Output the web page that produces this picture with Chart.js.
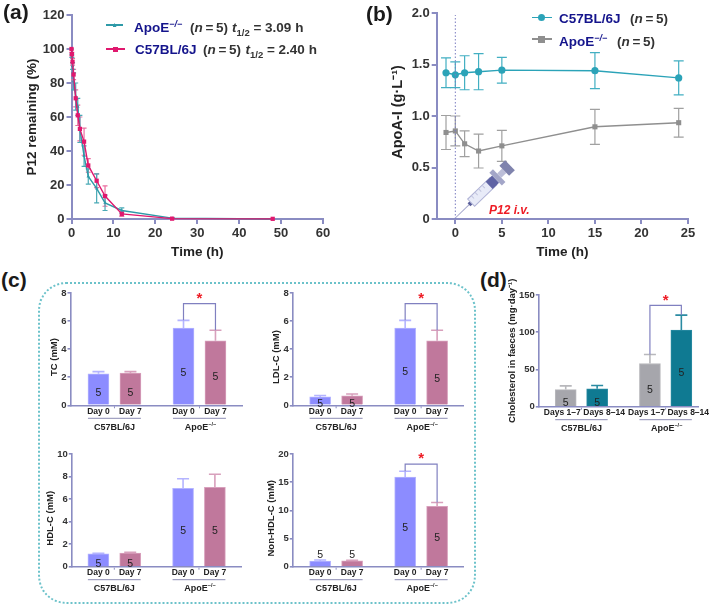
<!DOCTYPE html>
<html>
<head>
<meta charset="utf-8">
<script src="https://cdn.jsdelivr.net/npm/chart.js@4"></script>
<style>
    html, body { margin: 0; padding: 0; background: #fff; }
    #page { position: relative; width: 709px; height: 605px; overflow: hidden; font-family: "Liberation Sans", sans-serif; }
    #page canvas { position: absolute; }
    .panel-tag { position: absolute; font-size: 21px; font-weight: bold; color: #1a1a1a; }
    .txt { position: absolute; white-space: nowrap; font-weight: bold; font-size: 13.5px; color: #333; line-height: 16px; }
    .navy { color: #14148c; }
    .red { color: #ee1c25; font-style: italic; font-size: 12px; }
    .txt sup { font-size: 9px; line-height: 0; }
    .txt sub { font-size: 9.5px; line-height: 0; }
    .swatch { position: absolute; height: 1.5px; }
    .mark { position: absolute; }
    #frame { position: absolute; left: 38px; top: 282px; width: 434px; height: 318px; border: 2px dotted #6cc2ca; border-radius: 28px; }
</style>
</head>
<body>
<div id="page">
    <div id="frame"></div>
</div>
<script>
// (a) P12 remaining
const timesA = [0, 0.083, 0.25, 0.5, 1, 1.5, 2, 3, 4, 6, 8, 12, 24, 48];
const c57A = [100, 97, 92.5, 85, 71, 61, 53, 45.5, 31.5, 22.5, 13.5, 3, 0.2, 0.1];
const c57AErr = [0, 1, 2, 3, 5, 6, 7, 8, 4, 4, 6, 1.5, 0.3, 0.2];
const apoA = [100, 96, 90, 81, 72, 66, 53, 37, 25, 18, 9.5, 5, 0.5, 0];
const apoAErr = [0, 1, 2, 5, 8, 5, 8, 6, 4.5, 8.5, 4.5, 1.5, 0.3, 0.1];

// (b) ApoA-I
const timesB = [-1, 0, 1, 2.5, 5, 15, 24];
const c57B = [1.42, 1.40, 1.42, 1.43, 1.445, 1.44, 1.37];
const c57BErr = [0.145, 0.125, 0.165, 0.175, 0.125, 0.175, 0.165];
const apoB = [0.84, 0.855, 0.73, 0.66, 0.71, 0.895, 0.935];
const apoBErr = [0.165, 0.145, 0.125, 0.165, 0.15, 0.17, 0.14];

// (c) lipids, bars are Day 0 / Day 7 for each strain
const dayLabels = ['Day 0', 'Day 7', 'Day 0', 'Day 7'];
const tcValues = [2.25, 2.3, 5.5, 4.6];
const tcErr = [0.15, 0.1, 0.55, 0.75];
const tcCountAt = [0.87, 0.87, 2.3, 2.0];
const ldlValues = [0.6, 0.68, 5.5, 4.6];
const ldlErr = [0.1, 0.12, 0.55, 0.75];
const ldlCountAt = [0.1, 0.1, 2.4, 1.85];
const hdlValues = [1.15, 1.2, 6.95, 7.05];
const hdlErr = [0.05, 0.07, 0.85, 1.15];
const hdlCountAt = [0.2, 0.2, 3.15, 3.15];
const nonHdlValues = [1.0, 1.05, 15.9, 10.7];
const nonHdlErr = [0.2, 0.1, 1.05, 0.7];
const nonHdlCountAt = [2.1, 2.1, 6.8, 5.0];

// (d) faeces
const weekLabels = ['Days 1–7', 'Days 8–14', 'Days 1–7', 'Days 8–14'];
const faecesValues = [23, 24, 58, 103];
const faecesErr = [5, 4.5, 12, 20];
const faecesCountAt = [5.4, 5.4, 22, 45.5];
const countLabel = '5';
const strains = ['C57BL/6J', 'ApoE'];

const page = document.getElementById('page');
const axisColor = '#8a8cc2';
const tickColor = '#333';
const dayColors = ['#8c8cff', '#c0789c', '#8c8cff', '#c0789c'];
const dayEdges = ['#b4b4ff', '#d8a0bc', '#b4b4ff', '#d8a0bc'];
const weekColors = ['#a6a6ac', '#0f7a92', '#a6a6ac', '#0f7a92'];
const weekEdges = ['#b8b8bc', '#2a8ba2', '#b8b8bc', '#2a8ba2'];
const headroom = 26; // long y titles stick out above the plot
const nudge = n => '\u00a0'.repeat(n); // the y titles sit off centre in the figure
Chart.defaults.font.family = '"Liberation Sans", sans-serif';
Chart.defaults.animation = false;

// Error bars, read from dataset.errs so they go through the chart's scales
const errorBars = {
    id: 'errorBars',
    beforeDatasetsDraw(chart) {
        const ctx = chart.ctx;
        chart.data.datasets.forEach(ds => {
            if (!ds.errs) return;
            ds.data.forEach((d, i) => {
                const x = chart.scales.x.getPixelForValue(d.x);
                const top = chart.scales.y.getPixelForValue(d.y + ds.errs[i]);
                const low = chart.scales.y.getPixelForValue(ds.upperOnly ? d.y : d.y - ds.errs[i]);
                ctx.save();
                ctx.strokeStyle = Array.isArray(ds.errColor) ? ds.errColor[i] : ds.errColor;
                ctx.lineWidth = ds.errWidth;
                ctx.beginPath();
                ctx.moveTo(x, top);
                ctx.lineTo(x, low);
                ctx.moveTo(x - ds.cap, top);
                ctx.lineTo(x + ds.cap, top);
                if (!ds.upperOnly) {
                    ctx.moveTo(x - ds.cap, low);
                    ctx.lineTo(x + ds.cap, low);
                }
                ctx.stroke();
                ctx.restore();
            });
        });
    }
};

// Fixes the plot rectangle to page pixels, canvas is placed around it
function place(plot, titleX, titleY) {
    const axisW = plot.x0 - titleX + 9;
    const axisH = titleY - plot.y1 + 9;
    const left = plot.x0 - axisW, top = plot.y0 - headroom;
    const canvas = document.createElement('canvas');
    canvas.width = plot.x1 + 16 - left;
    canvas.height = plot.y1 + axisH - top;
    canvas.style.left = left + 'px';
    canvas.style.top = top + 'px';
    page.appendChild(canvas);
    return { canvas, axisW, axisH };
}

function baseOptions(spot, yAxis, xAxis, tickFont, titleFont, axisWidth, tickLen, tickPad) {
    return {
        responsive: false,
        layout: { padding: { top: headroom, right: 16, left: 0, bottom: 0 } },
        plugins: { legend: { display: false }, tooltip: { enabled: false } },
        scales: {
            x: Object.assign({
                type: 'linear',
                offset: false,
                grid: { drawOnChartArea: false, color: axisColor, lineWidth: axisWidth, tickLength: tickLen },
                border: { color: axisColor, width: axisWidth },
                afterFit: s => { s.height = spot.axisH; }
            }, xAxis),
            y: {
                min: yAxis.min, max: yAxis.max,
                ticks: { stepSize: yAxis.step, color: tickColor, font: { size: tickFont, weight: 'bold' }, padding: tickPad, autoSkip: false },
                grid: { drawOnChartArea: false, color: axisColor, lineWidth: axisWidth, tickLength: tickLen },
                border: { color: axisColor, width: axisWidth },
                title: { display: true, text: yAxis.title, color: '#222', font: { size: yAxis.titleSize || titleFont, weight: 'bold' }, padding: 0 },
                afterFit: s => { s.width = spot.axisW; }
            }
        }
    };
}

function lineSet(xs, ys, errs, color, errColor, style, radius, cap) {
    return {
        data: xs.map((x, i) => ({ x, y: ys[i] })),
        borderColor: color, backgroundColor: color, borderWidth: 1.4,
        pointStyle: style, pointRadius: radius, pointBorderWidth: 0,
        showLine: true, tension: 0, clip: false,
        errs, errColor, errWidth: 1.2, cap
    };
}

// Syringe sitting on t = 0 of panel (b)
const syringe = {
    id: 'syringe',
    afterDatasetsDraw(chart) {
        const ctx = chart.ctx;
        const x0 = chart.scales.x.getPixelForValue(0);
        const y0 = chart.scales.y.getPixelForValue(0);
        ctx.save();
        // dotted line at injection time
        ctx.strokeStyle = '#7a7cc0';
        ctx.lineWidth = 1;
        ctx.setLineDash([1.5, 2]);
        ctx.beginPath();
        ctx.moveTo(x0, y0);
        ctx.lineTo(x0, chart.scales.y.getPixelForValue(1.98));
        ctx.stroke();
        ctx.setLineDash([]);
        ctx.translate(x0, y0 - 1);
        ctx.rotate(-44 * Math.PI / 180);
        ctx.strokeStyle = '#a4a6cc';
        ctx.beginPath(); ctx.moveTo(0, 0); ctx.lineTo(20, 0); ctx.stroke();
        ctx.fillStyle = '#5a5f9a'; ctx.fillRect(19, -2, 3, 4);
        ctx.fillStyle = '#e8ebf8'; ctx.strokeStyle = '#b0b3d6';
        ctx.fillRect(22, -5, 31, 10); ctx.strokeRect(22, -5, 31, 10);
        ctx.strokeStyle = '#c2c5de';
        for (const t of [27, 32, 37, 42]) {
            ctx.beginPath(); ctx.moveTo(t, -5); ctx.lineTo(t, -1); ctx.stroke();
        }
        ctx.fillStyle = '#5f63a4'; ctx.fillRect(47, -5, 9, 10);
        ctx.fillStyle = '#a3a6c8'; ctx.fillRect(56, -9, 5, 18);
        ctx.fillStyle = '#bcbed8'; ctx.fillRect(61, -3, 7, 6);
        ctx.fillStyle = '#7f83ad'; ctx.fillRect(68, -7, 8, 14);
        ctx.restore();
    }
};

function lineChart(plot, titleX, titleY, yAxis, xAxis, datasets, extra) {
    const spot = place(plot, titleX, titleY);
    const opts = baseOptions(spot, yAxis, xAxis, 13, 13.5, 2, 5, 2);
    new Chart(spot.canvas, { type: 'scatter', data: { datasets }, options: opts, plugins: extra });
}

lineChart({ x0: 71.5, x1: 323, y0: 15, y1: 219 }, 33, 251,
    { min: 0, max: 120, step: 20, title: 'P12 remaining (%)' },
    {
        min: 0, max: 60,
        ticks: { stepSize: 10, color: tickColor, font: { size: 13, weight: 'bold' }, padding: 2, maxRotation: 0 },
        title: { display: true, text: 'Time (h)', color: '#222', font: { size: 13.5, weight: 'bold' }, padding: 0 }
    },
    [
        lineSet(timesA, c57A, c57AErr, '#e0186e', '#ea6ea0', 'rect', 3, 2.5),
        lineSet(timesA, apoA, apoAErr, '#2e9aa8', '#4aaab6', 'triangle', 2, 2.5)
    ],
    [errorBars]);

lineChart({ x0: 436.7, x1: 688.3, y0: 13, y1: 219 }, 398, 251,
    { min: 0, max: 2, step: 0.5, title: nudge(2) + 'ApoA-I (g·L⁻¹)', titleSize: 14.5 },
    {
        min: -2, max: 25,
        afterBuildTicks: s => { s.ticks = [0, 5, 10, 15, 20, 25].map(value => ({ value })); },
        ticks: { color: tickColor, font: { size: 13, weight: 'bold' }, padding: 2, maxRotation: 0 },
        title: { display: true, text: 'Time (h)', color: '#222', font: { size: 13.5, weight: 'bold' }, padding: 0 }
    },
    [
        lineSet(timesB, c57B, c57BErr, '#2ba3b8', '#42afc2', 'circle', 3.6, 5),
        lineSet(timesB, apoB, apoBErr, '#8f8f8f', '#a0a0a0', 'rect', 3.6, 5)
    ],
    [errorBars, syringe]);

// Count labels, strain groups, significance bracket
const barNotes = {
    id: 'barNotes',
    afterDatasetsDraw(chart, args, o) {
        const ctx = chart.ctx;
        const sx = chart.scales.x, sy = chart.scales.y;
        const ds = chart.data.datasets[0];
        ctx.save();
        ctx.textAlign = 'center';
        ctx.textBaseline = 'middle';
        ctx.fillStyle = '#222';
        ctx.font = '10.5px "Liberation Sans"';
        ds.data.forEach((d, i) => {
            ctx.fillText(countLabel, sx.getPixelForValue(d.x), sy.getPixelForValue(o.countAt[i]));
        });
        // tiny ticks between the two bars of a group, then group rule and name
        const half = ds.barThickness / 2;
        [0, 2].forEach((first, g) => {
            const a = ds.data[first].x, b = ds.data[first + 1].x;
            const xa = sx.getPixelForValue(a), xb = sx.getPixelForValue(b);
            ctx.strokeStyle = axisColor;
            ctx.lineWidth = 1;
            ctx.beginPath();
            ctx.moveTo((xa + xb) / 2, chart.chartArea.bottom + 1);
            ctx.lineTo((xa + xb) / 2, chart.chartArea.bottom + 3);
            ctx.stroke();
            ctx.strokeStyle = '#8d8db4';
            ctx.beginPath();
            ctx.moveTo(xa - half, chart.chartArea.bottom + 13);
            ctx.lineTo(xb + half, chart.chartArea.bottom + 13);
            ctx.stroke();
            ctx.fillStyle = '#222';
            ctx.font = 'bold 9px "Liberation Sans"';
            const y = chart.chartArea.bottom + 22;
            const name = strains[g];
            if (g === 0) {
                ctx.fillText(name, (xa + xb) / 2, y);
            } else {
                const w = ctx.measureText(name).width;
                ctx.fillText(name, (xa + xb) / 2 - 3, y);
                ctx.font = 'bold 5.5px "Liberation Sans"';
                ctx.textAlign = 'left';
                ctx.fillText('−/−', (xa + xb) / 2 - 3 + w / 2, y - 3);
                ctx.textAlign = 'center';
            }
        });
        if (o.bracket) {
            const k = o.bracket;
            const p = ds.data[k.from], q = ds.data[k.to];
            const xp = sx.getPixelForValue(p.x), xq = sx.getPixelForValue(q.x);
            const yl = sy.getPixelForValue(k.level);
            ctx.strokeStyle = '#8080c0';
            ctx.lineWidth = 1.2;
            ctx.beginPath();
            ctx.moveTo(xp, sy.getPixelForValue(p.y + ds.errs[k.from]));
            ctx.lineTo(xp, yl);
            ctx.lineTo(xq, yl);
            ctx.lineTo(xq, sy.getPixelForValue(q.y + ds.errs[k.to]));
            ctx.stroke();
            ctx.fillStyle = '#ee1c25';
            ctx.font = 'bold 15px "Liberation Sans"';
            ctx.fillText('*', (xp + xq) / 2, yl - 5);
        }
        ctx.restore();
    }
};

function barChart(plot, titleX, titleY, yAxis, slots, tickSlots, xMin, xMax, names, values, errs, countAt, colors, edges, bracket) {
    const spot = place(plot, titleX, titleY);
    const xAxis = {
        min: xMin, max: xMax,
        grid: { display: false, drawTicks: false },
        afterBuildTicks: s => { s.ticks = tickSlots.map(value => ({ value })); },
        ticks: {
            color: '#222', font: { size: 8.5, weight: 'bold' }, padding: 1,
            autoSkip: false, maxRotation: 0,
            callback: (v, i) => names[i]
        }
    };
    const opts = baseOptions(spot, yAxis, xAxis, 9.5, 9.5, 1.6, 3, 1);
    opts.plugins.barNotes = { countAt, bracket };
    new Chart(spot.canvas, {
        type: 'bar',
        data: {
            datasets: [{
                data: slots.map((x, i) => ({ x, y: values[i] })),
                backgroundColor: colors, borderColor: edges, borderWidth: 1,
                barThickness: 21, errs, errColor: edges, errWidth: 1.6, cap: 6, upperOnly: true
            }]
        },
        options: opts,
        plugins: [errorBars, barNotes]
    });
}

const daySlots = [0, 1, 2.66, 3.66];
const weekSlots = [0, 1, 2.68, 3.68];
const weekTickSlots = [-0.11, 1.22, 2.57, 3.9]; // these labels are wider than the bar spacing

barChart({ x0: 70, x1: 241.7, y0: 293.3, y1: 406.3 }, 57.5, 437,
    { min: 0, max: 8, step: 2, title: 'TC (mM)' + nudge(6) }, daySlots, daySlots, -0.875, 4.49, dayLabels,
    tcValues, tcErr, tcCountAt, dayColors, dayEdges, { from: 2, to: 3, level: 7.25 });
barChart({ x0: 292.3, x1: 462.7, y0: 293.3, y1: 406.3 }, 279.5, 437,
    { min: 0, max: 8, step: 2, title: 'LDL-C (mM)' + nudge(6) }, daySlots, daySlots, -0.856, 4.47, dayLabels,
    ldlValues, ldlErr, ldlCountAt, dayColors, dayEdges, { from: 2, to: 3, level: 7.25 });
barChart({ x0: 71.3, x1: 241.3, y0: 454, y1: 566.7 }, 53.5, 597,
    { min: 0, max: 10, step: 2, title: 'HDL-C (mM)' + nudge(6) }, daySlots, daySlots, -0.835, 4.48, dayLabels,
    hdlValues, hdlErr, hdlCountAt, dayColors, dayEdges, null);
barChart({ x0: 292.3, x1: 462.7, y0: 454, y1: 566.7 }, 274.5, 597,
    { min: 0, max: 20, step: 5, title: 'Non-HDL-C (mM)' + nudge(6) }, daySlots, daySlots, -0.856, 4.47, dayLabels,
    nonHdlValues, nonHdlErr, nonHdlCountAt, dayColors, dayEdges, { from: 2, to: 3, level: 18.2 });
barChart({ x0: 538.3, x1: 698, y0: 294.7, y1: 406.7 }, 515.5, 437,
    { min: 0, max: 150, step: 50, title: 'Cholesterol in faeces (mg·day⁻¹)' }, weekSlots, weekTickSlots, -0.857, 4.21, weekLabels,
    faecesValues, faecesErr, faecesCountAt, weekColors, weekEdges, { from: 2, to: 3, level: 136 });

// Panel tags and legends are plain text on the page
function text(x, y, html, cls) {
    const el = document.createElement('div');
    el.className = cls;
    el.style.left = x + 'px';
    el.style.top = y + 'px';
    el.innerHTML = html;
    page.appendChild(el);
}

function legendKey(x0, x1, y, color, size, shape) {
    const line = document.createElement('div');
    line.className = 'swatch';
    line.style.cssText = `left:${x0}px;top:${y - 0.75}px;width:${x1 - x0}px;background:${color}`;
    page.appendChild(line);
    const m = document.createElement('div');
    m.className = 'mark';
    m.style.cssText = `left:${(x0 + x1 - size) / 2}px;top:${y - size / 2}px;width:${size}px;height:${size}px;background:${color}`;
    if (shape === 'circle') m.style.borderRadius = '50%';
    if (shape === 'triangle') m.style.clipPath = 'polygon(50% 0, 100% 100%, 0 100%)';
    page.appendChild(m);
}

text(3, 0, '(a)', 'panel-tag');
text(366, 2, '(b)', 'panel-tag');
text(1, 268, '(c)', 'panel-tag');
text(480, 268, '(d)', 'panel-tag');

const apoText = 'ApoE<sup><i>−/−</i></sup>';
const nText = '(<i>n</i>&thinsp;=&thinsp;5)';
legendKey(106, 123, 25, '#2e9aa8', 4, 'triangle');
text(134, 20, apoText, 'txt navy');
text(190, 20, nText, 'txt');
text(232, 20, '<i>t</i><sub>1/2</sub> = 3.09 h', 'txt');
legendKey(106, 125, 49, '#e0186e', 5, 'rect');
text(135, 42, 'C57BL/6J', 'txt navy');
text(203, 42, nText, 'txt');
text(245.5, 42, '<i>t</i><sub>1/2</sub> = 2.40 h', 'txt');

legendKey(531.5, 552, 17.5, '#2ba3b8', 7, 'circle');
text(559, 11, 'C57BL/6J', 'txt navy');
text(630, 11, nText, 'txt');
legendKey(531.5, 552, 39, '#8f8f8f', 7, 'rect');
text(559, 34, apoText, 'txt navy');
text(617, 34, nText, 'txt');

text(489, 202, 'P12 i.v.', 'txt red');
</script>
</body>
</html>
